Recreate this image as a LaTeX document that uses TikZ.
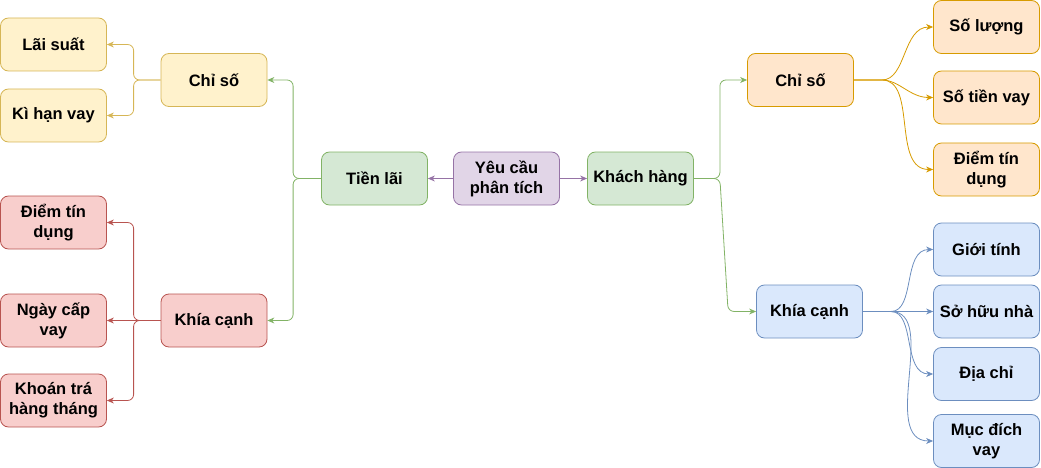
\documentclass[tikz,border=0pt]{standalone}
\usepackage{fontspec}
\setmainfont{Liberation Sans}
\usetikzlibrary{arrows.meta}

\definecolor{yfill}{HTML}{FFF2CC}\definecolor{ydraw}{HTML}{D6B656}
\definecolor{rfill}{HTML}{F8CECC}\definecolor{rdraw}{HTML}{B85450}
\definecolor{gfill}{HTML}{D5E8D4}\definecolor{gdraw}{HTML}{82B366}
\definecolor{pfill}{HTML}{E1D5E7}\definecolor{pdraw}{HTML}{9673A6}
\definecolor{ofill}{HTML}{FFE6CC}\definecolor{odraw}{HTML}{D79B00}
\definecolor{bfill}{HTML}{DAE8FC}\definecolor{bdraw}{HTML}{6C8EBF}

\tikzset{
    box/.style={rectangle, rounded corners=8pt, minimum width=106pt, minimum height=53pt,
        inner sep=2pt, align=center, line width=0.8pt,
        font=\bfseries\fontsize{16.5}{20}\selectfont},
    yellowbox/.style={box, fill=yfill, draw=ydraw},
    redbox/.style={box, fill=rfill, draw=rdraw},
    greenbox/.style={box, fill=gfill, draw=gdraw},
    purplebox/.style={box, fill=pfill, draw=pdraw},
    orangebox/.style={box, fill=ofill, draw=odraw},
    bluebox/.style={box, fill=bfill, draw=bdraw},
    link/.style={line width=0.8pt, rounded corners=6pt, -{Stealth[length=7pt,width=6pt]}},
}

\begin{document}
\begin{tikzpicture}[x=1pt,y=-1pt]
    % Fix the page to the size of the diagram
    \useasboundingbox (0,0) rectangle (1041,468);

    % Centre of the diagram
    \node[purplebox] (request) at (506.5,178.5) {Yêu cầu\\phân tích};
    \node[greenbox] (interest) at (374.5,178.5) {Tiền lãi};
    \node[greenbox] (customer) at (640.5,178.5) {Khách hàng};

    % Left branch
    \node[yellowbox] (lindex) at (214,80) {Chỉ số};
    \node[yellowbox] (rate) at (53.5,44.5) {Lãi suất};
    \node[yellowbox] (term) at (53.5,115.5) {Kì hạn vay};
    \node[redbox] (laspect) at (214,320.5) {Khía cạnh};
    \node[redbox] (lscore) at (53.5,222.5) {Điểm tín\\dụng};
    \node[redbox] (issue) at (53.5,320.5) {Ngày cấp\\vay};
    \node[redbox] (monthly) at (53.5,400.5) {Khoán trá\\hàng tháng};

    % Right branch
    \node[orangebox] (rindex) at (800.5,80) {Chỉ số};
    \node[orangebox] (amount) at (986.5,27) {Số lượng};
    \node[orangebox] (loan) at (986.5,97.5) {Số tiền vay};
    \node[orangebox] (rscore) at (986.5,169.5) {Điểm tín\\dụng};
    \node[bluebox] (raspect) at (809.5,311.5) {Khía cạnh};
    \node[bluebox] (gender) at (986.5,249.5) {Giới tính};
    \node[bluebox] (house) at (986.5,311.5) {Sở hữu nhà};
    \node[bluebox] (address) at (986.5,374) {Địa chỉ};
    \node[bluebox] (purpose) at (986.5,441) {Mục đích\\vay};

    % Connectors from the centre
    \draw[link, pdraw] (request) -- (interest);
    \draw[link, pdraw] (request) -- (customer);
    \draw[link, gdraw] (interest.west) -- ++(-28,0) |- (lindex.east);
    \draw[link, gdraw] (interest.west) -- ++(-28,0) |- (laspect.east);
    \draw[link, gdraw] (customer.east) -- ++(26,0) |- (rindex.west);
    \draw[link, gdraw] (customer.east) -- ++(26,0) -- ([xshift=-28pt]raspect.west) -- (raspect.west);

    % Left leaves
    \draw[link, ydraw] (lindex.west) -- ++(-27,0) |- (rate.east);
    \draw[link, ydraw] (lindex.west) -- ++(-27,0) |- (term.east);
    \draw[link, rdraw] (laspect.west) -- ++(-27,0) |- (lscore.east);
    \draw[link, rdraw] (laspect.west) -- (issue.east);
    \draw[link, rdraw] (laspect.west) -- ++(-27,0) |- (monthly.east);

    % Right leaves
    \draw[link, odraw] (rindex.east) -- ++(22,0) to[out=0,in=180] (amount.west);
    \draw[link, odraw] (rindex.east) -- ++(22,0) to[out=0,in=180] (loan.west);
    \draw[link, odraw] (rindex.east) -- ++(22,0) to[out=0,in=180] (rscore.west);
    \draw[link, bdraw] (raspect.east) -- ++(22,0) to[out=0,in=180] (gender.west);
    \draw[link, bdraw] (raspect.east) -- (house.west);
    \draw[link, bdraw] (raspect.east) -- ++(22,0) to[out=0,in=180] (address.west);
    \draw[link, bdraw] (raspect.east) -- ++(22,0) to[out=0,in=180] (purpose.west);
\end{tikzpicture}
\end{document}
